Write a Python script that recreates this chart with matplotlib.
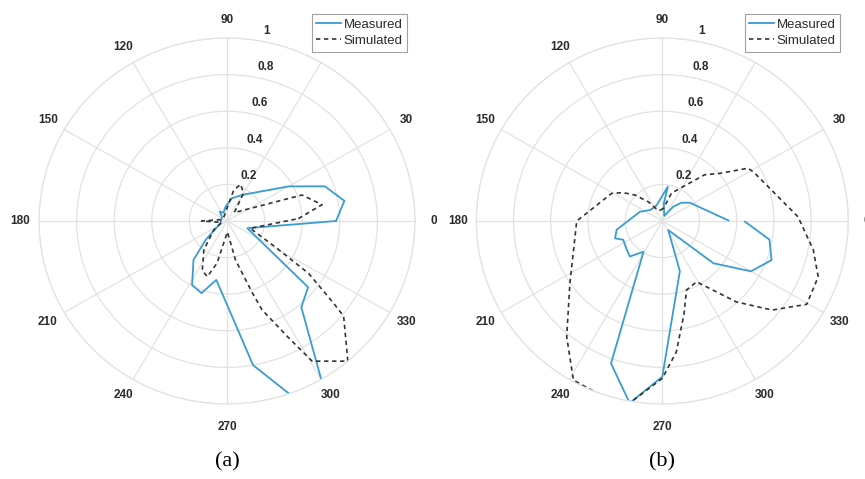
import numpy as np
import matplotlib
matplotlib.use('Agg')
import matplotlib.pyplot as plt

# ---------------- data (angles in degrees, normalised magnitude) ----------------
a_meas_theta = [0, 10, 20, 30, 60, 78, 96, 112, 127, 140, 200, 222, 230, 242, 251,
                260, 280, 290, 300, 310, 320, 340, 360]
a_meas_r = [0.58, 0.634, 0.554, 0.378, 0.165, 0.127, 0.078, 0.049, 0.064, 0.035, 0.037,
            0.15, 0.277, 0.396, 0.417, 0.327, 0.80, 1.02, 1.005, 0.615, 0.563, 0.115, 0.58]

a_sim_theta = [2, 10, 19.6, 50, 60, 70, 78, 90, 120, 165, 180, 195, 215, 232, 244, 251,
               257, 272, 282, 289, 291, 297, 300.6, 310, 320, 321.6, 326.6, 330.7, 342, 362]
a_sim_r = [0.38, 0.513, 0.424, 0.06, 0.175, 0.213, 0.173, 0.07, 0.03, 0.03, 0.135, 0.03,
           0.087, 0.20, 0.30, 0.322, 0.237, 0.06, 0.218, 0.417, 0.52, 0.71, 0.89, 1.0,
           0.81, 0.724, 0.52, 0.305, 0.13, 0.38]

b_meas_theta = [0.5, 34, 44, 53, 70, 85, 81, 109, 117, 138, 157, 191, 200.5, 206, 220,
                228, 239, 250.5, 260, 270, 289, 303, 320, 330, 340, 350, 359.5]
b_meas_r = [0.355, 0.179, 0.144, 0.098, 0.03, 0.097, 0.19, 0.092, 0.087, 0.089, 0.13,
            0.25, 0.271, 0.234, 0.248, 0.261, 0.196, 0.826, 1.01, 0.851, 0.29, 0.059,
            0.359, 0.55, 0.625, 0.585, 0.445]

b_sim_theta = [100, 85, 72, 59, 48, 40, 32, 27.6, 1.8, -11, -20, -30.4, -39.5, -48, -61,
               -71, -77, -84, -90, -100, -107.2, -118.8, -129.1, -145.6, -180, -209.1,
               -216.4, -224, -234.4, -250, -260]
b_sim_r = [0.06, 0.07, 0.16, 0.22, 0.34, 0.405, 0.545, 0.562, 0.73, 0.827, 0.892, 0.90,
           0.765, 0.595, 0.38, 0.399, 0.52, 0.72, 0.86, 1.01, 1.014, 0.992, 0.815, 0.602,
           0.46, 0.311, 0.261, 0.204, 0.129, 0.06, 0.06]

angle_ticks = [0, 30, 60, 90, 120, 150, 180, 210, 240, 270, 300, 330]
radial_ticks = [0.2, 0.4, 0.6, 0.8, 1.0]
radial_labels = ['0.2', '0.4', '0.6', '0.8', '1']
series_labels = ['Measured', 'Simulated']
captions = ['(a)', '(b)']

# ---------------- styling ----------------
W, H = 865, 479
BLUE = '#3a9cd2'
DASH = '#333333'
GRID = '#e2e2e2'
TXT = '#2b2b2b'

fig = plt.figure(figsize=(W / 100, H / 100), dpi=100)


def make_panel(cx, cy, rx, ry, meas_t, meas_r, sim_t, sim_r, leg_box, caption):
    ax = fig.add_axes([(cx - rx) / W, 1 - (cy + ry) / H, 2 * rx / W, 2 * ry / H],
                      projection='polar')
    ax.set_aspect('auto')
    ax.set_ylim(0, 1)
    ax.set_rticks(radial_ticks)
    ax.set_yticklabels([])
    ax.set_xticks(np.deg2rad(angle_ticks))
    ax.set_xticklabels([])
    ax.tick_params(length=0)
    ax.grid(True, color=GRID, lw=0.9)
    ax.spines['polar'].set_color(GRID)
    ax.spines['polar'].set_linewidth(0.9)

    l1, = ax.plot(np.deg2rad(meas_t), meas_r, color=BLUE, lw=1.3, label=series_labels[0])
    l2, = ax.plot(np.deg2rad(sim_t), sim_r, color=DASH, lw=1.2, ls=(0, (2.6, 2.2)),
                  label=series_labels[1])

    for a in angle_ticks:
        rr = 1.1 if a != 270 else 1.125
        ax.text(np.deg2rad(a), rr, str(a), ha='center', va='center', fontsize=8.5,
                fontweight='bold', color=TXT, family='Liberation Sans', clip_on=False)
    for r, lab in zip(radial_ticks, radial_labels):
        ax.annotate(lab, xy=(np.deg2rad(81.4), r), xytext=(5.8, 6.5),
                    textcoords='offset points', ha='left', va='center', fontsize=8.5,
                    fontweight='bold', color=TXT, family='Liberation Sans',
                    annotation_clip=False)

    x1, y0 = leg_box
    leg = ax.legend(handles=[l1, l2], loc='upper right',
                    bbox_to_anchor=(x1 / W, 1 - y0 / H), bbox_transform=fig.transFigure,
                    prop={'family': 'Liberation Sans', 'size': 9.5},
                    handlelength=1.9, handletextpad=0.15, borderpad=0.35,
                    labelspacing=0.3, borderaxespad=0, fancybox=False, framealpha=1)
    leg.get_frame().set_edgecolor('#a0a0a0')
    leg.get_frame().set_linewidth(0.8)
    for t in leg.get_texts():
        t.set_color(TXT)
    leg.set_zorder(10)

    fig.text(cx / W, 1 - 462 / H, caption, ha='center', va='center',
             family='Liberation Serif', fontsize=16)
    return ax


make_panel(227, 221, 188, 183, a_meas_theta, a_meas_r, a_sim_theta, a_sim_r,
           (407, 14), captions[0])
make_panel(662.3, 221, 186, 183, b_meas_theta, b_meas_r, b_sim_theta, b_sim_r,
           (840, 14), captions[1])

fig.savefig('out.png', dpi=100)
